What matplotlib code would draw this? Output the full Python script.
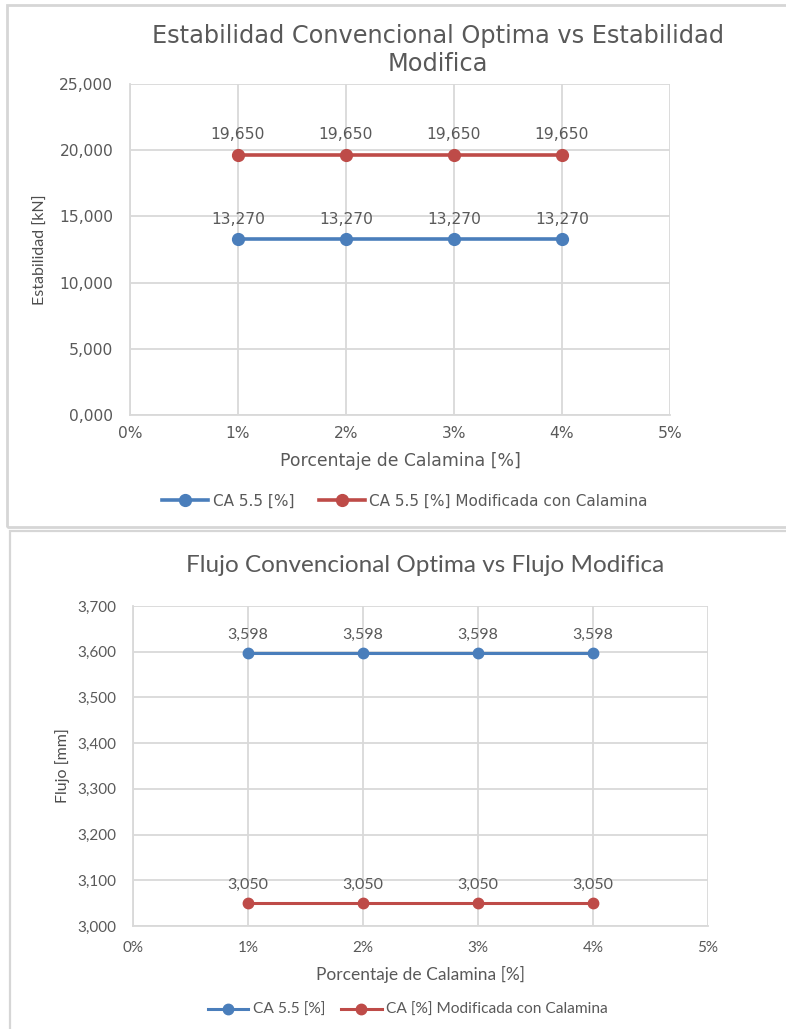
import matplotlib
matplotlib.use("Agg")
import matplotlib.pyplot as plt
from matplotlib.patches import Rectangle
from matplotlib.ticker import FuncFormatter, MultipleLocator

# Data
porcentaje = [0.01, 0.02, 0.03, 0.04]
estab_conv = [13.270, 13.270, 13.270, 13.270]
estab_mod = [19.650, 19.650, 19.650, 19.650]
flujo_conv = [3.598, 3.598, 3.598, 3.598]
flujo_mod = [3.050, 3.050, 3.050, 3.050]

BLUE = "#4a7ebb"
RED = "#be4b48"
GRID = "#d9d9d9"
TXT = "#595959"

W, H = 786, 1029
fig = plt.figure(figsize=(W / 100, H / 100), dpi=100)


def px_axes(x0, y0, x1, y1):
    return fig.add_axes([x0 / W, 1 - y1 / H, (x1 - x0) / W, (y1 - y0) / H])


def fmt_comma(v, _pos=None):
    return f"{v:.3f}".replace(".", ",")


def style_axes(ax, font, tsize, xpad, ypad):
    ax.set_xlim(0, 0.05)
    ax.xaxis.set_major_locator(MultipleLocator(0.01))
    ax.xaxis.set_major_formatter(FuncFormatter(lambda v, p: f"{round(v * 100)}%"))
    ax.grid(True, color=GRID, lw=1.3)
    ax.set_axisbelow(True)
    for s in ["top", "right"]:
        ax.spines[s].set_visible(False)
    for s in ["left", "bottom"]:
        ax.spines[s].set_color(GRID)
        ax.spines[s].set_linewidth(1.3)
    ax.tick_params(length=0, colors=TXT, labelsize=tsize)
    ax.tick_params(axis="x", pad=xpad)
    ax.tick_params(axis="y", pad=ypad)
    for lab in ax.get_xticklabels() + ax.get_yticklabels():
        lab.set_family(font)


def series(ax, xs, ys, color, label, font, size, off, ms, lw):
    ax.plot(xs, ys, color=color, lw=lw, marker="o", ms=ms, label=label, zorder=3)
    for x, y in zip(xs, ys):
        ax.annotate(fmt_comma(y), (x, y), xytext=(0, off), textcoords="offset points",
                    ha="center", va="bottom", color=TXT, fontsize=size, family=font)


# Panel frames
fig.add_artist(Rectangle((7 / W, 1 - 527 / H), 790 / W, 522 / H, transform=fig.transFigure,
                         fill=False, ec="#d6d6d6", lw=2))
fig.add_artist(Rectangle((10 / W, -0.01), 790 / W, (1029 - 531) / H + 0.01, transform=fig.transFigure,
                         fill=False, ec="#d6d6d6", lw=1.6))

# Top chart: stability
f1 = "DejaVu Sans"
ax1 = px_axes(130, 84, 670, 415)
series(ax1, porcentaje, estab_conv, BLUE, "CA 5.5 [%]", f1, 11.2, 9, 8.5, 2.6)
series(ax1, porcentaje, estab_mod, RED, "CA 5.5 [%] Modificada con Calamina", f1, 11.2, 9, 8.5, 2.6)
ax1.set_ylim(0, 25)
ax1.yaxis.set_major_locator(MultipleLocator(5))
ax1.yaxis.set_major_formatter(FuncFormatter(fmt_comma))
style_axes(ax1, f1, 11.2, 8, 12)
ax1.set_xlabel("Porcentaje de Calamina [%]", color=TXT, fontsize=12.4, family=f1, labelpad=8)
ax1.set_ylabel("Estabilidad [kN]", color="#4d4d4d", fontsize=11.5, family="Lato")
ax1.yaxis.set_label_coords((48 - 130) / 540, 0.5)
fig.text(438 / W, 1 - 36 / H, "Estabilidad Convencional Optima vs Estabilidad",
         ha="center", va="center", fontsize=17.3, color=TXT, family=f1)
fig.text(438 / W, 1 - 64 / H, "Modifica",
         ha="center", va="center", fontsize=17.3, color=TXT, family=f1)
ax1.legend(loc="center", bbox_to_anchor=(405 / W, 1 - 501 / H), bbox_transform=fig.transFigure,
           ncol=2, frameon=False, prop={"family": f1, "size": 11.0}, labelcolor=TXT,
           handlelength=3.0, columnspacing=1.6, handletextpad=0.3)

# Bottom chart: flow
f2 = "Lato"
ax2 = px_axes(133, 606, 708, 926)
series(ax2, porcentaje, flujo_conv, BLUE, "CA 5.5 [%]", f2, 11.5, 8, 7.5, 2.2)
series(ax2, porcentaje, flujo_mod, RED, "CA [%] Modificada con Calamina", f2, 11.5, 8, 7.5, 2.2)
ax2.set_ylim(3.0, 3.7)
ax2.yaxis.set_major_locator(MultipleLocator(0.1))
ax2.yaxis.set_major_formatter(FuncFormatter(fmt_comma))
style_axes(ax2, f2, 11, 11, 12)
ax2.set_xlabel("Porcentaje de Calamina [%]", color=TXT, fontsize=12.5, family=f2, labelpad=8)
ax2.set_ylabel("Flujo [mm]", color="#4d4d4d", fontsize=11.5, family=f2)
ax2.yaxis.set_label_coords((70 - 133) / 575, 0.5)
fig.text(425 / W, 1 - 565 / H, "Flujo Convencional Optima vs Flujo Modifica",
         ha="center", va="center", fontsize=17.5, color=TXT, family=f2)
ax2.legend(loc="center", bbox_to_anchor=(408 / W, 1 - 1010 / H), bbox_transform=fig.transFigure,
           ncol=2, frameon=False, prop={"family": f2, "size": 11.2}, labelcolor=TXT,
           handlelength=2.6, columnspacing=1.0, handletextpad=0.3)

fig.savefig("out.png", dpi=100, facecolor="white")
